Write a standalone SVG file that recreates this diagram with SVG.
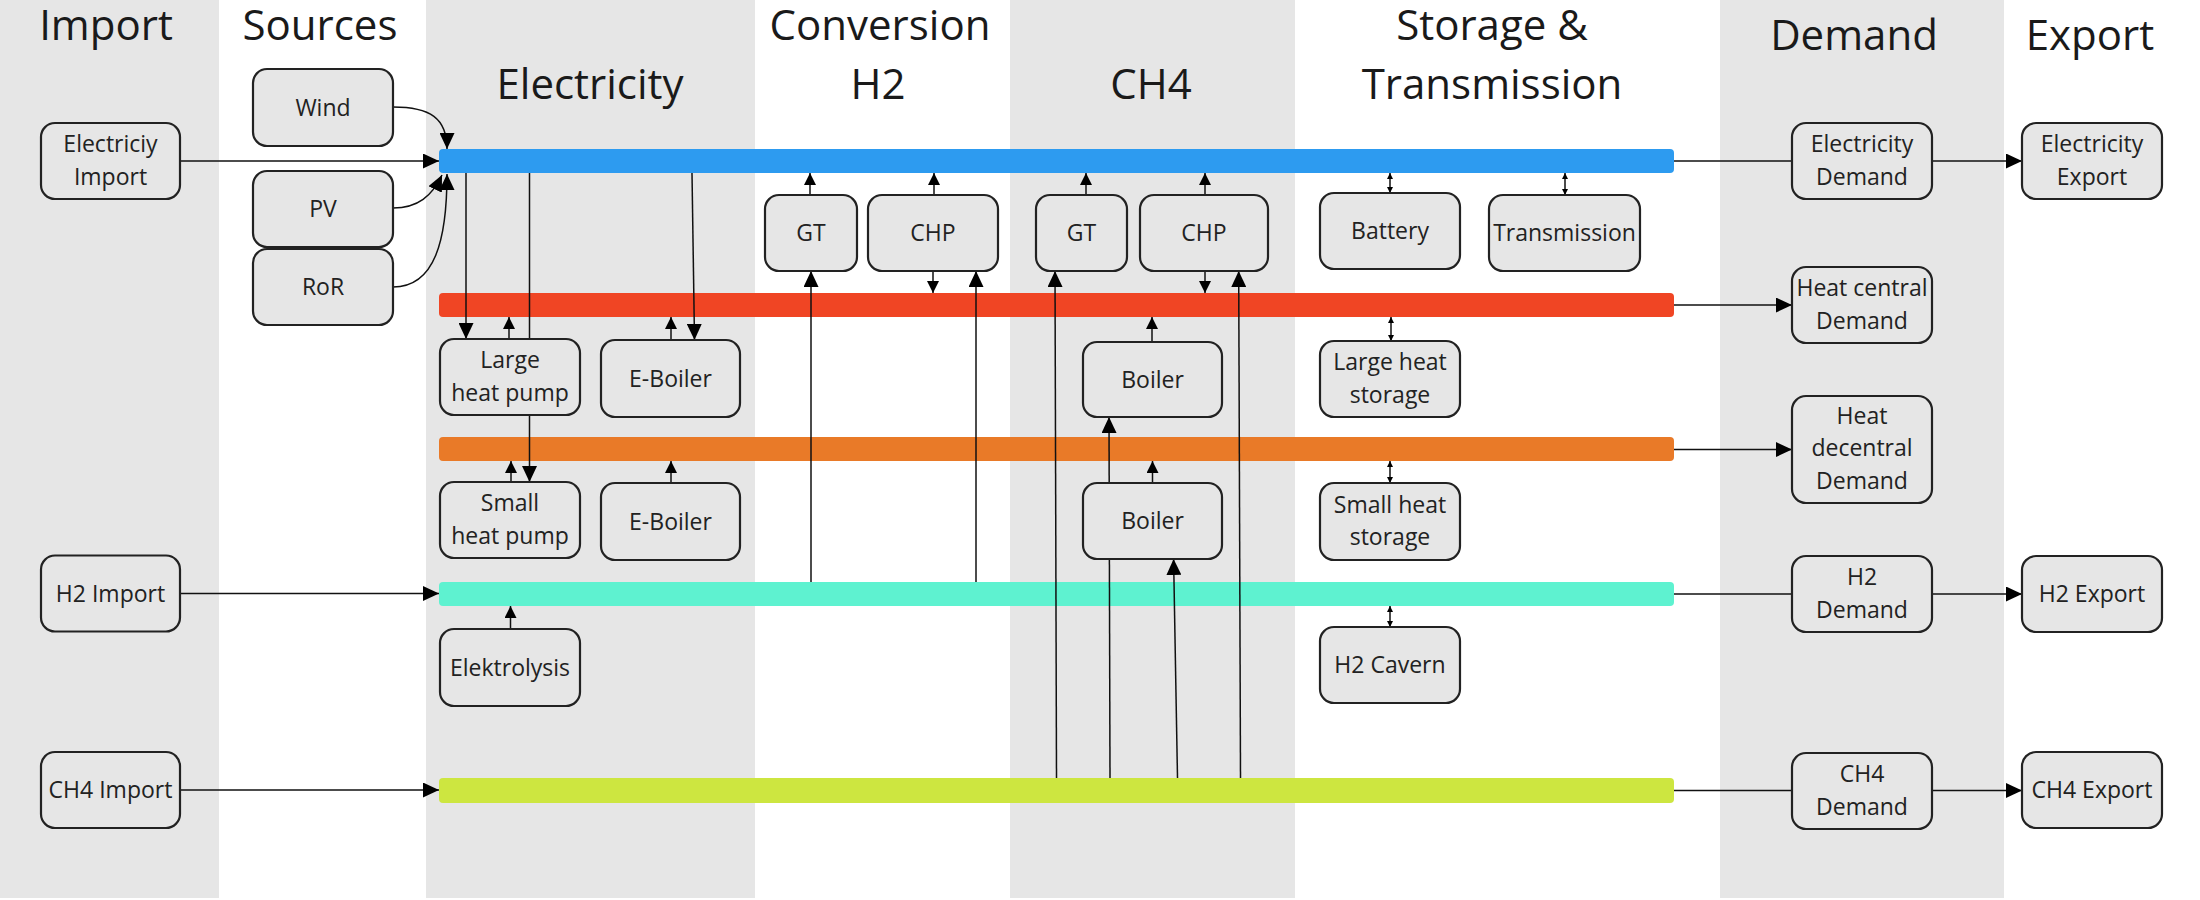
<svg xmlns="http://www.w3.org/2000/svg" width="2200" height="900" viewBox="0 0 2200 900">
  <style>
    .col { fill: #e6e6e6; }
    .title { font-family: "Open Sans", "Liberation Sans", sans-serif; font-size: 42px; fill: #1a1a1a; text-anchor: middle; }
    .box { fill: #e6e6e6; stroke: #222222; stroke-width: 2.2; }
    .lbl { font-family: "Open Sans", "Liberation Sans", sans-serif; font-size: 23px; fill: #222222; text-anchor: middle; }
    .c { fill: none; stroke: #111111; stroke-width: 1.5; }
    .big { marker-end: url(#big); }
    .sm { marker-end: url(#small); }
    .dbl { marker-start: url(#tiny); marker-end: url(#tiny); }
  </style>
  <defs>
    <marker id="big" viewBox="0 0 16 15" markerWidth="16" markerHeight="15" refX="16" refY="7.5" orient="auto" markerUnits="userSpaceOnUse">
      <path d="M0,0 L16,7.5 L0,15 z" fill="#000"/>
    </marker>
    <marker id="small" viewBox="0 0 12 12" markerWidth="12" markerHeight="12" refX="12" refY="6" orient="auto" markerUnits="userSpaceOnUse">
      <path d="M0,0 L12,6 L0,12 z" fill="#000"/>
    </marker>
    <marker id="tiny" viewBox="0 0 6 6" markerWidth="6" markerHeight="6" refX="6" refY="3" orient="auto-start-reverse" markerUnits="userSpaceOnUse">
      <path d="M0,0 L6,3 L0,6 z" fill="#000"/>
    </marker>
  </defs>

  <rect x="0" y="0" width="2200" height="900" fill="#ffffff"/>
  <g id="columns">
    <rect class="col" x="0" y="0" width="219" height="898"/>
    <rect class="col" x="426" y="0" width="329" height="898"/>
    <rect class="col" x="1010" y="0" width="285" height="898"/>
    <rect class="col" x="1720" y="0" width="284" height="898"/>
  </g>
  <g id="titles">
    <text class="title" x="106" y="40">Import</text>
    <text class="title" x="320" y="40">Sources</text>
    <text class="title" x="590" y="99">Electricity</text>
    <text class="title" x="880" y="40">Conversion</text>
    <text class="title" x="878" y="99">H2</text>
    <text class="title" x="1151" y="99">CH4</text>
    <text class="title" x="1492" y="40">Storage &amp;</text>
    <text class="title" x="1492" y="99">Transmission</text>
    <text class="title" x="1854" y="50">Demand</text>
    <text class="title" x="2090" y="50">Export</text>
  </g>

  <g id="buses">
    <rect id="bus-electricity" x="439" y="149" width="1235" height="24" rx="4" fill="#2d9bf0"/>
    <rect id="bus-heat-central" x="439" y="293" width="1235" height="24" rx="4" fill="#f04524"/>
    <rect id="bus-heat-decentral" x="439" y="437" width="1235" height="24" rx="4" fill="#e97a28"/>
    <rect id="bus-h2" x="439" y="582" width="1235" height="24" rx="4" fill="#5ef2d0"/>
    <rect id="bus-ch4" x="439" y="778" width="1235" height="25" rx="4" fill="#cde640"/>
  </g>

  <g id="connectors">
    <path class="c big" d="M180,161 L439,161"/>
    <path class="c big" d="M393,107 C430,107 447,118 447,149"/>
    <path class="c big" d="M393,208 C418,208 432,196 442,175"/>
    <path class="c big" d="M393,287 C435,287 447,240 447,174"/>
    <path class="c big" d="M180,593.5 L439,593.5"/>
    <path class="c big" d="M180,790 L439,790"/>

    <path class="c big" d="M466,173 L466,339"/>
    <path class="c big" d="M529.5,173 L529.5,482"/>
    <path class="c big" d="M692,173 L694.5,340"/>
    <path class="c sm" d="M509,339 L509,317"/>
    <path class="c sm" d="M671,340 L671,317"/>
    <path class="c sm" d="M511,482 L511,461"/>
    <path class="c sm" d="M671,483 L671,461"/>
    <path class="c sm" d="M510.5,629 L510.5,606"/>

    <path class="c sm" d="M810,195 L810,173"/>
    <path class="c sm" d="M934,195 L934,173"/>
    <path class="c sm" d="M1086,195 L1086,173"/>
    <path class="c sm" d="M1205,195 L1205,173"/>
    <path class="c sm" d="M933,271 L933,293"/>
    <path class="c sm" d="M1205,271 L1205,293"/>

    <path class="c big" d="M811,582 L811,271"/>
    <path class="c big" d="M976,582 L976,271"/>
    <path class="c big" d="M1056.5,778 L1055,271"/>
    <path class="c big" d="M1240.5,778 L1238.7,271"/>
    <path class="c big" d="M1110,778 L1109,417"/>
    <path class="c big" d="M1177.5,778 L1173.6,559"/>
    <path class="c sm" d="M1152,342 L1152,317"/>
    <path class="c sm" d="M1152.5,483 L1152.5,461"/>

    <path class="c dbl" d="M1390,173 L1390,193"/>
    <path class="c dbl" d="M1565,173 L1565,195"/>
    <path class="c dbl" d="M1391,317 L1391,341"/>
    <path class="c dbl" d="M1390,461 L1390,483"/>
    <path class="c dbl" d="M1390,606 L1390,627"/>

    <path class="c" d="M1674,161 L1792,161"/>
    <path class="c big" d="M1932,161 L2022,161"/>
    <path class="c big" d="M1674,305 L1792,305"/>
    <path class="c big" d="M1674,449.5 L1792,449.5"/>
    <path class="c" d="M1674,594 L1792,594"/>
    <path class="c big" d="M1932,594 L2022,594"/>
    <path class="c" d="M1674,790.5 L1792,790.5"/>
    <path class="c big" d="M1932,790.5 L2022,790.5"/>
  </g>

  <g id="elec-import"><rect class="box" x="41" y="123" width="139" height="76" rx="14"/><text class="lbl" x="110.5" y="152">Electriciy</text><text class="lbl" x="110.5" y="184.5">Import</text></g>
  <g id="h2-import"><rect class="box" x="41" y="555.5" width="139" height="76" rx="14"/><text class="lbl" x="110.5" y="601.5">H2 Import</text></g>
  <g id="ch4-import"><rect class="box" x="41" y="752" width="139" height="76" rx="14"/><text class="lbl" x="110.5" y="798">CH4 Import</text></g>

  <g id="wind"><rect class="box" x="253" y="69" width="140" height="77" rx="14"/><text class="lbl" x="323" y="115.5">Wind</text></g>
  <g id="pv"><rect class="box" x="253" y="171" width="140" height="76" rx="14"/><text class="lbl" x="323" y="217">PV</text></g>
  <g id="ror"><rect class="box" x="253" y="249" width="140" height="76" rx="14"/><text class="lbl" x="323" y="295">RoR</text></g>

  <g id="large-heat-pump"><rect class="box" x="440" y="339" width="140" height="76" rx="14"/><text class="lbl" x="510" y="368">Large</text><text class="lbl" x="510" y="400.5">heat pump</text></g>
  <g id="e-boiler-central"><rect class="box" x="601" y="340" width="139" height="77" rx="14"/><text class="lbl" x="670.5" y="386.5">E-Boiler</text></g>
  <g id="small-heat-pump"><rect class="box" x="440" y="482" width="140" height="76" rx="14"/><text class="lbl" x="510" y="511">Small</text><text class="lbl" x="510" y="543.5">heat pump</text></g>
  <g id="e-boiler-decentral"><rect class="box" x="601" y="483" width="139" height="77" rx="14"/><text class="lbl" x="670.5" y="529.5">E-Boiler</text></g>
  <g id="elektrolysis"><rect class="box" x="440" y="629" width="140" height="77" rx="14"/><text class="lbl" x="510" y="675.5">Elektrolysis</text></g>

  <g id="gt-h2"><rect class="box" x="765" y="195" width="92" height="76" rx="14"/><text class="lbl" x="811" y="241">GT</text></g>
  <g id="chp-h2"><rect class="box" x="868" y="195" width="130" height="76" rx="14"/><text class="lbl" x="933" y="241">CHP</text></g>
  <g id="gt-ch4"><rect class="box" x="1036" y="195" width="91" height="76" rx="14"/><text class="lbl" x="1081.5" y="241">GT</text></g>
  <g id="chp-ch4"><rect class="box" x="1140" y="195" width="128" height="76" rx="14"/><text class="lbl" x="1204" y="241">CHP</text></g>
  <g id="boiler-central"><rect class="box" x="1083" y="342" width="139" height="75" rx="14"/><text class="lbl" x="1152.5" y="387.5">Boiler</text></g>
  <g id="boiler-decentral"><rect class="box" x="1083" y="483" width="139" height="76" rx="14"/><text class="lbl" x="1152.5" y="529">Boiler</text></g>

  <g id="battery"><rect class="box" x="1320" y="193" width="140" height="76" rx="14"/><text class="lbl" x="1390" y="239">Battery</text></g>
  <g id="transmission"><rect class="box" x="1489" y="195" width="151" height="76" rx="14"/><text class="lbl" x="1564.5" y="241">Transmission</text></g>
  <g id="large-heat-storage"><rect class="box" x="1320" y="341" width="140" height="76" rx="14"/><text class="lbl" x="1390" y="370">Large heat</text><text class="lbl" x="1390" y="402.5">storage</text></g>
  <g id="small-heat-storage"><rect class="box" x="1320" y="483" width="140" height="77" rx="14"/><text class="lbl" x="1390" y="512.5">Small heat</text><text class="lbl" x="1390" y="545">storage</text></g>
  <g id="h2-cavern"><rect class="box" x="1320" y="627" width="140" height="76" rx="14"/><text class="lbl" x="1390" y="673">H2 Cavern</text></g>

  <g id="elec-demand"><rect class="box" x="1792" y="123" width="140" height="76" rx="14"/><text class="lbl" x="1862" y="152">Electricity</text><text class="lbl" x="1862" y="184.5">Demand</text></g>
  <g id="heat-central-demand"><rect class="box" x="1792" y="267" width="140" height="76" rx="14"/><text class="lbl" x="1862" y="296">Heat central</text><text class="lbl" x="1862" y="328.5">Demand</text></g>
  <g id="heat-decentral-demand"><rect class="box" x="1792" y="396" width="140" height="107" rx="14"/><text class="lbl" x="1862" y="423.5">Heat</text><text class="lbl" x="1862" y="456">decentral</text><text class="lbl" x="1862" y="488.5">Demand</text></g>
  <g id="h2-demand"><rect class="box" x="1792" y="556" width="140" height="76" rx="14"/><text class="lbl" x="1862" y="585">H2</text><text class="lbl" x="1862" y="617.5">Demand</text></g>
  <g id="ch4-demand"><rect class="box" x="1792" y="753" width="140" height="76" rx="14"/><text class="lbl" x="1862" y="782">CH4</text><text class="lbl" x="1862" y="814.5">Demand</text></g>

  <g id="elec-export"><rect class="box" x="2022" y="123" width="140" height="76" rx="14"/><text class="lbl" x="2092" y="152">Electricity</text><text class="lbl" x="2092" y="184.5">Export</text></g>
  <g id="h2-export"><rect class="box" x="2022" y="556" width="140" height="76" rx="14"/><text class="lbl" x="2092" y="602">H2 Export</text></g>
  <g id="ch4-export"><rect class="box" x="2022" y="752" width="140" height="76" rx="14"/><text class="lbl" x="2092" y="798">CH4 Export</text></g>
</svg>
